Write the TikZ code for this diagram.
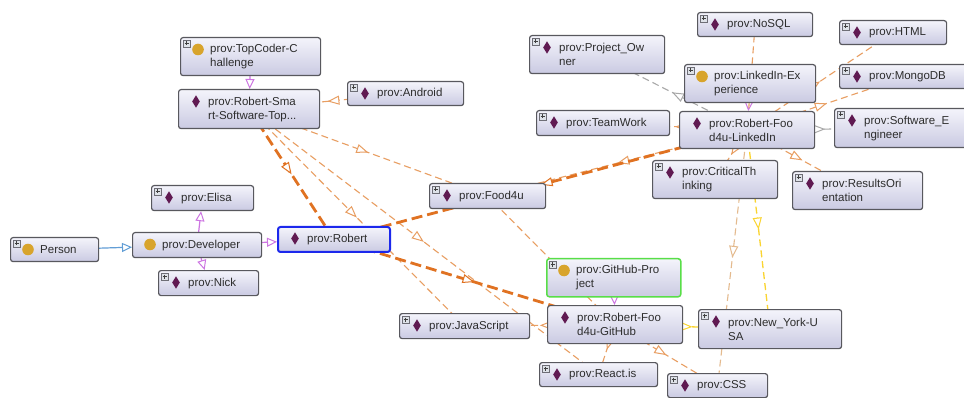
\documentclass[tikz,border=0pt]{standalone}
\usepackage{fontspec}
\setmainfont{Liberation Sans}
\usetikzlibrary{arrows.meta,calc,decorations.markings}
\pgfdeclarelayer{paper}
\pgfdeclarelayer{edges}
\pgfsetlayers{paper,edges,main}

% palette
\definecolor{boxtop}{RGB}{244,244,251}
\definecolor{boxbot}{RGB}{202,202,226}
\definecolor{boxline}{RGB}{88,88,94}
\definecolor{txt}{RGB}{45,45,45}
\definecolor{indiv}{RGB}{96,26,82}
\definecolor{cls}{RGB}{216,164,44}
\definecolor{plusfill}{RGB}{222,226,232}
\definecolor{plusline}{RGB}{110,110,118}
\definecolor{objprop}{RGB}{232,158,98}
\definecolor{objstrong}{RGB}{224,114,34}
\definecolor{tanprop}{RGB}{228,186,142}
\definecolor{violetarc}{RGB}{205,118,226}
\definecolor{bluearc}{RGB}{98,158,214}
\definecolor{yellowarc}{RGB}{250,212,48}
\definecolor{grayarc}{RGB}{168,168,168}
\definecolor{selblue}{RGB}{28,40,236}
\definecolor{selgreen}{RGB}{88,222,72}

\tikzset{
  entity/.style={draw=boxline, line width=1.2pt, rounded corners=2.5pt,
    top color=boxtop, bottom color=boxbot, inner sep=0pt, anchor=north west},
  caption/.style={text=txt, font=\fontsize{11.5}{14}\selectfont, align=left,
    inner sep=0pt, anchor=west},
  midarrow/.style={postaction={decorate,decoration={markings,
    mark=at position 0.5 with {\arrow{Triangle[length=12pt,width=9pt,fill=white,line width=1pt]}}}}},
  thinprop/.style={color=objprop, line width=1.1pt, dash pattern=on 7pt off 4pt, midarrow},
  tanline/.style={color=tanprop, line width=1.1pt, dash pattern=on 7pt off 4pt, midarrow},
  strongprop/.style={color=objstrong, line width=2.8pt, dash pattern=on 11pt off 5pt, midarrow},
  yellowline/.style={color=yellowarc, line width=1.3pt, dash pattern=on 7pt off 4pt, midarrow},
  grayline/.style={color=grayarc, line width=1.1pt, dash pattern=on 7pt off 4pt, midarrow},
  hasmember/.style={color=violetarc, line width=1.2pt,
    -{Triangle[length=10pt,width=9pt,fill=white,line width=1pt]}},
  subclass/.style={color=bluearc, line width=1.2pt,
    -{Triangle[length=10pt,width=9pt,fill=white,line width=1pt]}},
}

% a box of the graph: [extra style] name, left, top, width, height
\newcommand{\ontobox}[6][]{\node[entity,minimum width=#5pt,minimum height=#6pt,#1] (#2) at (#3,#4) {};}
% its text, left aligned
\newcommand{\ontolabel}[2]{\node[caption] (#1-text) at ($(#1.west)+(30,0)$) {#2};}
% individual (diamond) and class (disc) icons
\newcommand{\ontoind}[1]{\fill[indiv] ($(#1.north west)+(18,12.5)$) +(0,-6.2) -- +(3.8,0) -- +(0,6.2) -- +(-3.8,0) -- cycle;}
\newcommand{\ontocls}[1]{\fill[cls] ($(#1.north west)+(18,12.5)$) circle (5.8pt);}
% the small expand button
\newcommand{\ontoplus}[1]{%
  \draw[line width=0.6pt, draw=plusline, fill=plusfill] ($(#1.north west)+(3,3)$) rectangle ++(7,7);
  \draw[line width=0.8pt, draw=black!75] ($(#1.north west)+(4.5,6.5)$) -- ++(4,0)
    ($(#1.north west)+(6.5,4.5)$) -- ++(0,4);}

\begin{document}
\begin{tikzpicture}[x=1pt,y=-1pt]
\useasboundingbox (0,0) rectangle (964,398);
\clip (0,0) rectangle (964,398);
\begin{pgfonlayer}{paper}
  \fill[white] (0,0) rectangle (964,398);
\end{pgfonlayer}

% ---- boxes ----
\ontobox{topcoder}{180}{37}{140}{38}\ontoplus{topcoder}\ontocls{topcoder}
\ontolabel{topcoder}{prov:TopCoder-C\\hallenge}
\ontobox{rsmart}{178}{89}{141}{39}\ontoind{rsmart}
\ontolabel{rsmart}{prov:Robert-Sma\\rt-Software-Top...}
\ontobox{android}{347}{81}{116}{24}\ontoplus{android}\ontoind{android}
\ontolabel{android}{prov:Android}
\ontobox{elisa}{151}{185}{102}{25}\ontoplus{elisa}\ontoind{elisa}
\ontolabel{elisa}{prov:Elisa}
\ontobox{person}{10}{237}{88}{24}\ontoplus{person}\ontocls{person}
\node[caption] (person-text) at ($(person.west)+(30,0)$) {Person};
\ontobox{developer}{132}{232}{129}{25}\ontocls{developer}
\ontolabel{developer}{prov:Developer}
\ontobox{nick}{158}{270}{100}{25}\ontoplus{nick}\ontoind{nick}
\ontolabel{nick}{prov:Nick}
\ontobox[draw=selblue,line width=2pt]{robert}{277}{226}{112}{25}\ontoind{robert}
\ontolabel{robert}{prov:Robert}
\ontobox{food}{429}{183}{116}{25}\ontoplus{food}\ontoind{food}
\ontolabel{food}{prov:Food4u}
\ontobox{javascript}{399}{313}{130}{25}\ontoplus{javascript}\ontoind{javascript}
\ontolabel{javascript}{prov:JavaScript}
\ontobox[draw=selgreen,line width=1.5pt]{ghproj}{546}{258}{134}{38}\ontoplus{ghproj}\ontocls{ghproj}
\ontolabel{ghproj}{prov:GitHub-Pro\\ject}
\ontobox{rgithub}{547}{305}{135}{38}\ontoind{rgithub}
\ontolabel{rgithub}{prov:Robert-Foo\\d4u-GitHub}
\ontobox{newyork}{698}{309}{143}{39}\ontoplus{newyork}\ontoind{newyork}
\ontolabel{newyork}{prov:New\_York-U\\SA}
\ontobox{react}{539}{362}{118}{24}\ontoplus{react}\ontoind{react}
\ontolabel{react}{prov:React.is}
\ontobox{css}{667}{373}{100}{24}\ontoplus{css}\ontoind{css}
\ontolabel{css}{prov:CSS}
\ontobox{projowner}{529}{35}{135}{38}\ontoplus{projowner}\ontoind{projowner}
\ontolabel{projowner}{prov:Project\_Ow\\ner}
\ontobox{nosql}{697}{12}{115}{24}\ontoplus{nosql}\ontoind{nosql}
\ontolabel{nosql}{prov:NoSQL}
\ontobox{html}{839}{20}{107}{24}\ontoplus{html}\ontoind{html}
\ontolabel{html}{prov:HTML}
\ontobox{linkexp}{684}{64}{131}{38}\ontoplus{linkexp}\ontocls{linkexp}
\ontolabel{linkexp}{prov:LinkedIn-Ex\\perience}
\ontobox{mongodb}{839}{64}{134}{24}\ontoplus{mongodb}\ontoind{mongodb}
\ontolabel{mongodb}{prov:MongoDB}
\ontobox{teamwork}{536}{110}{133}{25}\ontoplus{teamwork}\ontoind{teamwork}
\ontolabel{teamwork}{prov:TeamWork}
\ontobox{rlinked}{679}{111}{135}{37}\ontoind{rlinked}
\ontolabel{rlinked}{prov:Robert-Foo\\d4u-LinkedIn}
\ontobox{softeng}{834}{108}{138}{39}\ontoplus{softeng}\ontoind{softeng}
\ontolabel{softeng}{prov:Software\_E\\ngineer}
\ontobox{critical}{652}{160}{125}{38}\ontoplus{critical}\ontoind{critical}
\ontolabel{critical}{prov:CriticalTh\\inking}
\ontobox{results}{792}{171}{130}{38}\ontoplus{results}\ontoind{results}
\ontolabel{results}{prov:ResultsOri\\entation}

% ---- connectors (behind the boxes) ----
\begin{pgfonlayer}{edges}
  % class hierarchy and members
  \draw[subclass] (person) -- (developer);
  \draw[hasmember] (developer) -- (elisa);
  \draw[hasmember] (developer) -- (nick);
  \draw[hasmember] (developer) -- (robert);
  \draw[hasmember] (topcoder) -- (rsmart);
  \draw[hasmember] (ghproj) -- (rgithub);
  \draw[hasmember] (linkexp) -- (rlinked);

  % properties of the TopCoder challenge
  \draw[thinprop] (android.center) -- (rsmart.center);
  \draw[thinprop] (rsmart.center) -- (food.center);
  \draw[thinprop] (rsmart.center) -- (javascript.center);
  \draw[thinprop] (rsmart.center) -- (react.center);
  \draw[strongprop] (rsmart.center) -- (robert.center);

  % properties of the GitHub project
  \draw[strongprop] (robert.center) -- (rgithub.center);
  \draw[thinprop] (rgithub.center) -- (food.center);
  \draw[thinprop] (rgithub.center) -- (javascript.center);
  \draw[thinprop] (rgithub.center) -- (react.center);
  \draw[thinprop] (rgithub.center) -- (css.center);
  \draw[yellowline] (rgithub.center) -- (newyork.center);

  % properties of the LinkedIn experience
  \draw[thinprop] (rlinked.center) -- (food.center);
  \draw[strongprop] (rlinked.center) -- (robert.center);
  \draw[tanline] (rlinked.center) -- (css.center);
  \draw[yellowline] (rlinked.center) -- (newyork.center);
  \draw[thinprop] (rlinked.center) -- (critical.center);
  \draw[thinprop] (rlinked.center) -- (teamwork.center);
  \draw[grayline] (rlinked.center) -- (softeng.center);
  \draw[grayline] (rlinked.center) -- (projowner.center);
  \draw[thinprop] (rlinked.center) -- (nosql.center);
  \draw[thinprop] (rlinked.center) -- (html.center);
  \draw[thinprop] (rlinked.center) -- (mongodb.center);
  \draw[thinprop] (rlinked.center) -- (results.center);
\end{pgfonlayer}
\end{tikzpicture}
\end{document}
